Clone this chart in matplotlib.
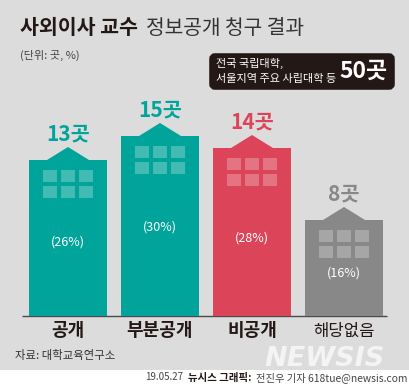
import matplotlib
matplotlib.use("Agg")
import matplotlib.pyplot as plt
from matplotlib.patches import Polygon, Rectangle, FancyBboxPatch

plt.rcParams['font.family'] = ['Noto Sans CJK KR', 'DejaVu Sans']

categories = ["공개", "부분공개", "비공개", "해당없음"]
counts = [13, 15, 14, 8]
shares = [26, 30, 28, 16]
total = 50

colors = ["#00a49a", "#00a49a", "#dc4459", "#888888"]
label_weights = ["bold", "bold", "bold", "normal"]
label_sizes = [13, 13, 13, 12]
share_drop = [82, 91, 90, 53]  # px below the top of each bar

BG = "#dcdcdc"
DARK = "#231815"
W, H = 410, 388

fig = plt.figure(figsize=(W / 100, H / 100), dpi=100, facecolor="white")

# page layer, in pixels from the top left
page = fig.add_axes([0, 0, 1, 1])
page.set_xlim(0, W)
page.set_ylim(H, 0)
page.axis("off")
page.add_patch(Rectangle((0, 0), W, 369.5, color=BG, lw=0))

# chart layer: 92 px per category, 12 px per 곳, baseline at y=316
base_y = 316
ax = fig.add_axes([0, 1 - base_y / H, 1, base_y / H])
ax.set_xlim(-68 / 92, (W - 68) / 92)
ax.set_ylim(0, base_y / 12)
ax.axis("off")
ax.patch.set_alpha(0)

px = 1 / 92
py = 1 / 12
xs = range(len(counts))
ax.bar(xs, counts, width=78 * px, color=colors, lw=0)

for i in xs:
    c = counts[i]
    ax.add_patch(Polygon([(i - 21 * px, c), (i, c + 13 * py), (i + 21 * px, c)],
                         closed=True, color=colors[i], lw=0))
    for r in range(2):
        for k in range(3):
            x0 = i + (-25 + k * 18) * px
            y0 = c - (10 + r * 16 + 12) * py
            ax.add_patch(Rectangle((x0, y0), 14 * px, 12 * py, color="white", alpha=0.26, lw=0))
    ax.text(i, c + 26 * py, f"{c}곳", ha="center", va="center", color=colors[i],
            fontsize=15, fontweight="bold")
    ax.text(i, c - share_drop[i] * py, f"({shares[i]}%)", ha="center", va="center", color="white",
            fontsize=9, fontweight="light")
    page.text(i * 92 + 68, 331, categories[i], ha="center", va="center", color=DARK,
              fontsize=label_sizes[i], fontweight=label_weights[i])

page.plot([22, 387], [base_y, base_y], color="#4a4a4a", lw=1.0, solid_capstyle="butt")

# header
page.text(20, 28, "사외이사 교수", ha="left", va="center", color=DARK, fontsize=14.8, fontweight="bold")
page.text(146, 28, "정보공개 청구 결과", ha="left", va="center", color="#333333", fontsize=14.6)
page.text(20, 55, "(단위: 곳, %)", ha="left", va="center", color="#444444", fontsize=8)

# total box
page.add_patch(FancyBboxPatch((212, 56), 180, 31, boxstyle="round,pad=0,rounding_size=3",
                              mutation_aspect=1, fc=DARK, ec=DARK, lw=4))
page.text(216, 63, "전국 국립대학,", ha="left", va="center", color="white", fontsize=8)
page.text(216, 79, "서울지역 주요 사립대학 등", ha="left", va="center", color="white", fontsize=8)
page.text(388, 71, f"{total}곳", ha="right", va="center", color="white", fontsize=16.5, fontweight="bold")

# footer
page.text(15, 355, "자료: 대학교육연구소", ha="left", va="center", color="#333333", fontsize=8.2)
page.text(325, 358.5, "NEWSIS", ha="center", va="center", color="white", alpha=0.7, fontsize=19.5,
          fontweight="bold", style="italic", family="DejaVu Sans")
page.text(145, 377.5, "19.05.27", ha="left", va="center", color="#444444", fontsize=7)
page.text(188, 377.5, "뉴시스 그래픽:", ha="left", va="center", color=DARK, fontsize=7.5, fontweight="bold")
page.text(408, 377.5, "전진우 기자 618tue@newsis.com", ha="right", va="center", color="#444444", fontsize=7.4)

fig.savefig("out.png", dpi=100, facecolor="white")
